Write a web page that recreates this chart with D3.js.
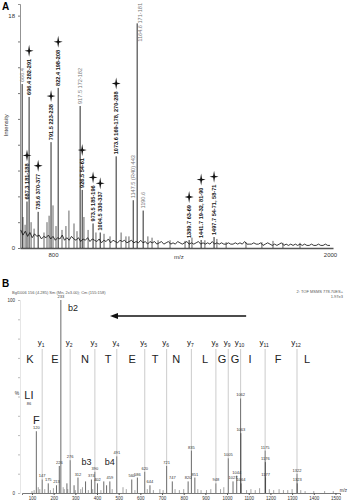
<!DOCTYPE html>
<html>
<head>
<meta charset="utf-8">
<script src="https://cdn.jsdelivr.net/npm/d3@7"></script>
<style>
  body { margin: 0; background: #fff; }
  svg { display: block; font-family: "Liberation Sans", Arial, sans-serif; }
</style>
</head>
<body>
<div class="container"></div>
<script>
const width = 349;
const height = 500;

// ---- panel A : MALDI peptide map ----
const aMz    = [666.4, 696.4, 687.3, 735.6, 791.5, 822.4, 917.5, 926.5, 973.5, 1004.5, 1073.6, 1164.6, 1147.5, 1190.6, 1389.7, 1441.7, 1497.7];
const aInt   = [12.7, 11.7, 3.6, 2.8, 8.2, 12.4, 11.0, 4.5, 1.9, 1.2, 7.1, 17.4, 3.7, 2.9, 0.62, 0.62, 0.85];
const aSites = ["", "282-291", "181-188", "370-377", "223-238", "198-208", "172-182", "54-61", "185-196", "330-337",
                "169-178, 270-288", "171-181", "(R40) 443", "", "63-69", "19-32, 81-90", "54-71, 58-71"];
const aStar  = [false, true, true, true, true, true, false, true, true, true, true, false, false, false, true, true, true];

const aMinorMz  = [670, 679, 705, 718, 761, 774, 783, 800, 813, 839, 856, 869, 891, 904, 934, 952, 986, 1021, 1047, 1095,
                   1116, 1129, 1211, 1229, 1255, 1307, 1372, 1402, 1458, 1510, 1550, 1636, 1705, 1753, 1796, 1870];
const aMinorInt = [2.4, 1.8, 2.0, 1.5, 1.2, 2.0, 2.5, 3.3, 1.7, 1.4, 1.7, 2.9, 1.9, 1.3, 2.4, 1.4, 1.2, 1.1, 0.9, 1.2,
                   0.9, 0.9, 0.9, 0.8, 0.6, 0.6, 0.55, 0.8, 0.6, 0.7, 0.45, 0.45, 0.45, 0.55, 0.4, 0.4];

// baseline trace, one value every 10 m/z from 660
const aNoise = [1.4,1.0,1.3,0.9,1.2,0.8,1.1,0.9,1.0,0.7, 0.9,0.8,1.0,0.7,0.9,0.6,0.8,0.7,1.0,0.6,
                0.8,0.6,0.9,0.7,0.6,0.8,0.5,0.7,0.6,0.8, 0.5,0.7,0.6,0.5,0.7,0.4,0.6,0.5,0.7,0.4,
                0.6,0.5,0.4,0.6,0.5,0.6,0.4,0.5,0.6,0.4, 0.5,0.4,0.6,0.4,0.5,0.3,0.5,0.4,0.5,0.3,
                0.4,0.5,0.3,0.4,0.5,0.3,0.4,0.3,0.5,0.4, 0.3,0.4,0.5,0.3,0.4,0.3,0.4,0.5,0.3,0.4,
                0.3,0.4,0.3,0.5,0.3,0.4,0.3,0.4,0.3,0.3, 0.4,0.3,0.3,0.4,0.3,0.4,0.3,0.5,0.3,0.3,
                0.3,0.4,0.3,0.3,0.4,0.2,0.3,0.4,0.3,0.2, 0.3,0.2,0.3,0.4,0.2,0.3,0.2,0.3,0.2,0.3,
                0.2,0.3,0.2,0.3,0.2,0.2,0.3,0.2,0.2,0.3, 0.2,0.2,0.3,0.2,0.2];
const aNoiseStart = 660, aNoiseStep = 10;
const aTicks = [800, 2000];

// ---- panel B : MS/MS of the 778.7 precursor ----
const bMz    = [120.1, 147.1, 175.1, 213.1, 226.1, 233.2, 261.2, 276.2, 294.2, 312.2, 347.2, 374.2, 390.2, 402.2, 431.3,
                444.2, 459.3, 491.3, 560.3, 586.3, 620.3, 644.3, 721.3, 747.4, 820.4, 835.4, 851.4, 948.5, 1005.5, 1027.5,
                1044.5, 1062.5, 1063.5, 1064.5, 1175.6, 1176.6, 1177.6, 1322.7, 1323.7];
const bInt   = [32, 7, 5, 4, 14, 100, 5, 17, 4, 8, 6, 7, 11, 5, 6,
                4, 6, 19, 7, 8, 11, 4, 14, 6, 6, 22, 8, 5, 18, 6,
                9, 49, 31, 5, 22, 16, 8, 10, 5];
const bLabel = ["120", "147", "175", "213", "226", "233", "", "276", "", "312", "", "374", "390", "402", "",
                "", "459", "491", "560", "586", "620", "644", "721", "747", "820", "835", "851", "948", "1005", "1027",
                "1044", "1062", "1063", "1064", "1175", "1176", "1177", "1322", "1323"];

const bMinorMz  = [100, 110, 129, 136, 159, 185, 199, 244, 249, 265, 300, 325, 333, 360, 380, 418, 470, 520, 535, 575,
                   632, 660, 690, 705, 760, 780, 800, 865, 880, 905, 925, 970, 985, 1090, 1110, 1130, 1150, 1195, 1215,
                   1240, 1260, 1280, 1300, 1340, 1360, 1400, 1450, 1490];
const bMinorInt = [1, 1.5, 3, 2, 2, 1.5, 2.5, 3, 2, 2, 1.5, 2, 3, 1.5, 2, 1.5, 2, 3, 2, 1.5,
                   2, 1.5, 2, 1.5, 2, 1.5, 2, 2, 1.5, 1.5, 2, 2, 3, 1.5, 2, 1.5, 2.5, 2, 1.5,
                   2, 1.5, 1.5, 2, 1.5, 1, 1, 1, 1];

const yIons   = [147.1, 276.2, 390.2, 491.3, 620.3, 721.3, 835.4, 948.5, 1005.5, 1062.5, 1175.6, 1322.7];
const seq     = ["K", "E", "N", "T", "E", "T", "N", "L", "G", "G", "I", "F", "L"];
const seqMz   = [91, 206, 345, 451, 562, 668, 765, 898, 977, 1037, 1106, 1235, 1369];
const bIons   = [["b2", 261.2], ["b3", 374.2], ["b4", 431.3]];
const bTicks  = d3.range(100, 1501, 100);
const arrowMz = [1088, 460];

const svg = d3.select(".container")
  .append("svg")
  .attr("width", width)
  .attr("height", height);

// =================== A ===================
const xA = d3.scaleLinear().domain([657, 2013]).range([20, 333]);
const yA = d3.scaleLinear().domain([0, 18.9]).range([248, 4]);

svg.append("text").attr("x", 2).attr("y", 10)
  .style("font-size", "10px").style("font-weight", "bold").text("A");

const axA = svg.append("g").attr("transform", `translate(0,${yA(0)})`)
  .call(d3.axisBottom(xA).tickValues(aTicks).tickSize(0).tickPadding(5).tickFormat(d3.format("d")));
axA.select(".domain").attr("stroke", "#555").attr("stroke-width", 1.6);
axA.selectAll("text").style("font-size", "6px").attr("fill", "#333");

const ayA = svg.append("g").attr("transform", `translate(${xA.range()[0]},0)`)
  .call(d3.axisLeft(yA).tickValues(d3.range(0, 19, 2)).tickSize(2)
        .tickFormat(d => (d === 0 || d === 18) ? d : ""));
ayA.select(".domain").attr("stroke", "#777").attr("stroke-width", 0.8);
ayA.selectAll("line").attr("stroke", "#777");
ayA.selectAll("text").style("font-size", "6px").attr("fill", "#333");

svg.append("text").attr("transform", `translate(8,${yA(9.5)}) rotate(-90)`)
  .attr("text-anchor", "middle").style("font-size", "6px").attr("fill", "#333").text("Intensity");
svg.append("text").attr("x", xA(1345)).attr("y", yA(0) + 11)
  .attr("text-anchor", "middle").style("font-size", "6px").attr("fill", "#333").text("m/z");

const noisePts = aNoise.map((v, i) => [aNoiseStart + i * aNoiseStep, v]);
svg.append("path")
  .datum(noisePts)
  .attr("fill", "none")
  .attr("stroke", "#222")
  .attr("stroke-width", 0.9)
  .attr("d", d3.line().x(d => xA(d[0])).y(d => yA(d[1])));

svg.append("g").selectAll("line")
  .data(aMinorMz.map((m, i) => [m, aMinorInt[i]]))
  .join("line")
    .attr("x1", d => xA(d[0])).attr("x2", d => xA(d[0]))
    .attr("y1", yA(0)).attr("y2", d => yA(d[1]))
    .attr("stroke", "#222").attr("stroke-width", 0.7);

const aPeaks = aMz.map((m, i) => ({ mz: m, v: aInt[i], sites: aSites[i], star: aStar[i] }));

svg.append("g").selectAll("line")
  .data(aPeaks)
  .join("line")
    .attr("x1", d => xA(d.mz)).attr("x2", d => xA(d.mz))
    .attr("y1", yA(0)).attr("y2", d => yA(d.v))
    .attr("stroke", "#111").attr("stroke-width", 0.9);

const aLab = svg.append("g").selectAll("text")
  .data(aPeaks)
  .join("text")
    .style("font-size", "5.6px")
    .style("font-weight", d => d.star ? "bold" : "normal")
    .attr("fill", d => d.star ? "#111" : "#777")
    .text(d => d.mz.toFixed(1) + (d.sites ? " " + d.sites : ""));

const starPath = "M0,-6L0.9,-0.9L4.5,0L0.9,0.9L0,6L-0.9,0.9L-4.5,0L-0.9,-0.9Z";
aLab.each(function(d) {
  const len = this.getComputedTextLength();
  let base = yA(d.v) - 2;
  let dx = 2;
  // labels that would run off the top sit beside the peak instead
  if (base - len < 3) { base = 3 + len; dx = 5; }
  d3.select(this).attr("transform", `translate(${xA(d.mz) + dx},${base}) rotate(-90)`);
  if (!d.star) return;
  svg.append("path")
    .attr("d", starPath)
    .attr("transform", `translate(${xA(d.mz)},${base - len - 8})`)
    .attr("fill", "#111");
});

// =================== B ===================
const xB = d3.scaleLinear().domain([54, 1521]).range([22, 340]);
const yB = d3.scaleLinear().domain([0, 100]).range([493, 300]);

svg.append("text").attr("x", 2).attr("y", 287)
  .style("font-size", "10px").style("font-weight", "bold").text("B");

svg.append("text").attr("x", 12).attr("y", 294)
  .style("font-size", "4px").attr("fill", "#555")
  .text("Bgl1006 156 (4.285) Sm (Mn, 2x3.00); Cm (155:158)");
svg.append("text").attr("x", 343).attr("y", 293).attr("text-anchor", "end")
  .style("font-size", "4px").attr("fill", "#555").text("2: TOF MSMS 778.70ES+");
svg.append("text").attr("x", 343).attr("y", 298).attr("text-anchor", "end")
  .style("font-size", "4px").attr("fill", "#555").text("1.97e3");

const axB = svg.append("g").attr("transform", `translate(0,${yB(0)})`)
  .call(d3.axisBottom(xB).tickValues(bTicks).tickSize(2).tickPadding(1.5).tickFormat(d3.format("d")));
axB.select(".domain").attr("stroke", "#555").attr("stroke-width", 0.8);
axB.selectAll("line").attr("stroke", "#555");
axB.selectAll("text").style("font-size", "4.5px").attr("fill", "#333");
svg.append("text").attr("x", 347).attr("y", 492).attr("text-anchor", "end")
  .style("font-size", "4.5px").attr("fill", "#333").text("m/z");

const ayB = svg.append("g").attr("transform", `translate(${xB.range()[0] - 2},0)`)
  .call(d3.axisLeft(yB).tickValues(d3.range(0, 101, 10)).tickSize(2)
        .tickFormat(d => (d === 0 || d === 100) ? d : ""));
ayB.select(".domain").attr("stroke", "#ccc").attr("stroke-width", 0.5);
ayB.selectAll("line").attr("stroke", "#bbb");
ayB.selectAll("text").style("font-size", "4.5px").attr("fill", "#333");
svg.append("text").attr("x", 17).attr("y", yB(51))
  .attr("text-anchor", "middle").style("font-size", "5px").attr("fill", "#333").text("%");

// sequence read direction arrow
const ay = 316;
svg.append("line")
  .attr("x1", xB(arrowMz[0])).attr("x2", xB(arrowMz[1]) + 5)
  .attr("y1", ay).attr("y2", ay)
  .attr("stroke", "#111").attr("stroke-width", 1.6);
svg.append("path")
  .attr("d", `M${xB(arrowMz[1])},${ay}L${xB(arrowMz[1]) + 8},${ay - 3}L${xB(arrowMz[1]) + 8},${ay + 3}Z`)
  .attr("fill", "#111");

// y-ion guide lines
const bPeaks = bMz.map((m, i) => ({ mz: m, v: bInt[i], label: bLabel[i] }));
const peakAt = m => bPeaks.find(p => Math.abs(p.mz - m) < 0.5);

svg.append("g").selectAll("line")
  .data(yIons)
  .join("line")
    .attr("x1", d => xB(d)).attr("x2", d => xB(d))
    .attr("y1", 349).attr("y2", d => yB(peakAt(d) ? peakAt(d).v : 0))
    .attr("stroke", "#aaa").attr("stroke-width", 0.6);

const yLab = svg.append("g").selectAll("text")
  .data(yIons)
  .join("text")
    .attr("x", d => xB(d) - 1).attr("y", 345)
    .attr("text-anchor", "middle")
    .style("font-size", "8px").attr("fill", "#222");
yLab.append("tspan").text("y");
yLab.append("tspan").attr("dy", 1.5).style("font-size", "5px").text((d, i) => i + 1);

svg.append("g").selectAll("text")
  .data(seq)
  .join("text")
    .attr("x", (d, i) => xB(seqMz[i])).attr("y", 363)
    .attr("text-anchor", "middle")
    .style("font-size", "11px").attr("fill", "#222")
    .text(d => d);

// spectrum sticks
svg.append("g").selectAll("line")
  .data(bMinorMz.map((m, i) => [m, bMinorInt[i]]))
  .join("line")
    .attr("x1", d => xB(d[0])).attr("x2", d => xB(d[0]))
    .attr("y1", yB(0)).attr("y2", d => yB(d[1]))
    .attr("stroke", "#666").attr("stroke-width", 0.6);

svg.append("g").selectAll("line")
  .data(bPeaks)
  .join("line")
    .attr("x1", d => xB(d.mz)).attr("x2", d => xB(d.mz))
    .attr("y1", yB(0)).attr("y2", d => yB(d.v))
    .attr("stroke", "#444").attr("stroke-width", 0.8);

svg.append("g").selectAll("text")
  .data(bPeaks.filter(d => d.label))
  .join("text")
    .attr("x", d => xB(d.mz)).attr("y", d => yB(d.v) - 2)
    .attr("text-anchor", "middle")
    .style("font-size", "4px").attr("fill", "#333")
    .text(d => d.label);

// immonium ions
const imm = [["LI", 86.1, 45, "86"], ["F", 120.1, 32, ""]];
svg.append("g").selectAll("text")
  .data(imm)
  .join("text")
    .attr("x", d => xB(d[1])).attr("y", d => yB(d[2]) - 7)
    .attr("text-anchor", "middle")
    .style("font-size", "11px").attr("fill", "#222")
    .text(d => d[0]);
svg.append("text").attr("x", xB(86.1)).attr("y", yB(45) - 1)
  .attr("text-anchor", "middle").style("font-size", "4px").attr("fill", "#333").text("86");

const bOff = { b2: 6, b3: -5, b4: 6 };
svg.append("g").selectAll("text")
  .data(bIons)
  .join("text")
    .attr("x", d => xB(d[1]) + bOff[d[0]]).attr("y", d => d[0] === "b2" ? 311 : 465)
    .attr("text-anchor", "middle")
    .style("font-size", "9px").attr("fill", "#222")
    .text(d => d[0]);
</script>
</body>
</html>
